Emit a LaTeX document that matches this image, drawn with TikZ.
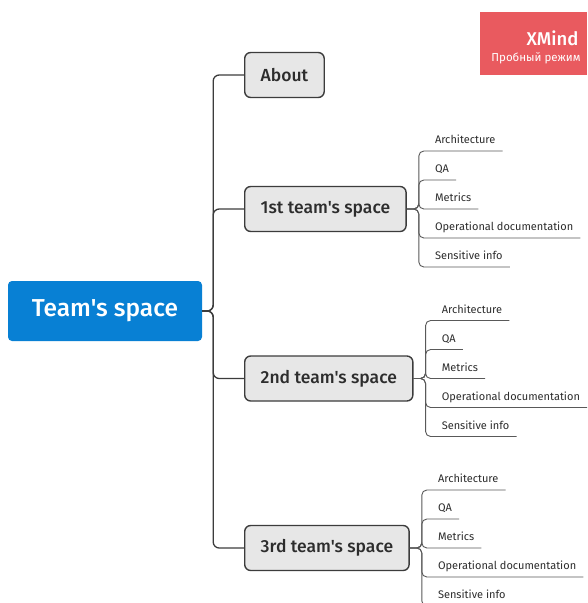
\documentclass[tikz,border=0pt]{standalone}
\usepackage{fontspec}
\setmainfont{Fira Sans}
\newfontfamily\medfont{Fira Sans Medium}
\usetikzlibrary{positioning,calc}

\definecolor{rootblue}{RGB}{8,128,212}
\definecolor{boxgray}{RGB}{231,231,231}
\definecolor{edgegray}{RGB}{60,60,60}
\definecolor{textgray}{RGB}{45,45,45}
\definecolor{markred}{RGB}{233,90,95}

\tikzset{
  rootbox/.style={fill=rootblue, rounded corners=4, minimum width=194, minimum height=60,
    text=white, font=\medfont\fontsize{24.5}{28}\selectfont},
  teambox/.style={draw=edgegray, line width=1.4pt, fill=boxgray, rounded corners=6,
    anchor=west, inner xsep=16, minimum height=45, text=textgray,
    font=\medfont\fontsize{17.5}{20}\selectfont},
  subtopic/.style={anchor=south west, inner xsep=0, inner ysep=4, text height=8,
    text depth=3, text=textgray, font=\fontsize{11}{13}\selectfont},
  trunk/.style={draw=edgegray, line width=1.3pt, rounded corners=6},
  subline/.style={draw=edgegray!85, line width=0.9pt, rounded corners=5}
}

\begin{document}
\begin{tikzpicture}[x=1pt, y=-1pt]
  \clip (0,0) rectangle (587,603);
  \fill[white] (0,0) rectangle (587,603);

  % watermark
  \fill[markred] (480,12) rectangle (587,75);
  \node[anchor=east, text=white, font=\medfont\fontsize{18.5}{20}\selectfont] (mark) at (582,38) {XMind};
  \node[anchor=east, text=white, font=\fontsize{11.5}{13}\selectfont] (markru) at (584,58) {Пробный режим};

  % central topic
  \node[rootbox] (root) at (105,311) {Team's space};
  \coordinate (fork) at ([xshift=11]root.east);

  % main topics
  \node[teambox] (about) at (244,75) {About};
  \node[teambox] (t1) at (244,209) {1st team's space};
  \node[teambox] (t2) at (244,378.5) {2nd team's space};
  \node[teambox] (t3) at (244,548) {3rd team's space};

  \foreach \m in {about,t1,t2,t3}
    \draw[trunk] (root.east) -- (fork) |- (\m.west);

  % subtopics
  \foreach \t in {1,2,3} {
    \coordinate (b\t) at ([xshift=12]t\t.east);
    \foreach \lbl [count=\i] in {Architecture, QA, Metrics, Operational documentation, Sensitive info} {
      \node[subtopic] (s\t\i) at ([xshift=16, yshift={(3-\i)*29}]b\t) {\lbl};
      \draw[subline] (t\t.east) -- (b\t) |- ([xshift=7]s\t\i.south east);
    }
  }
\end{tikzpicture}
\end{document}
